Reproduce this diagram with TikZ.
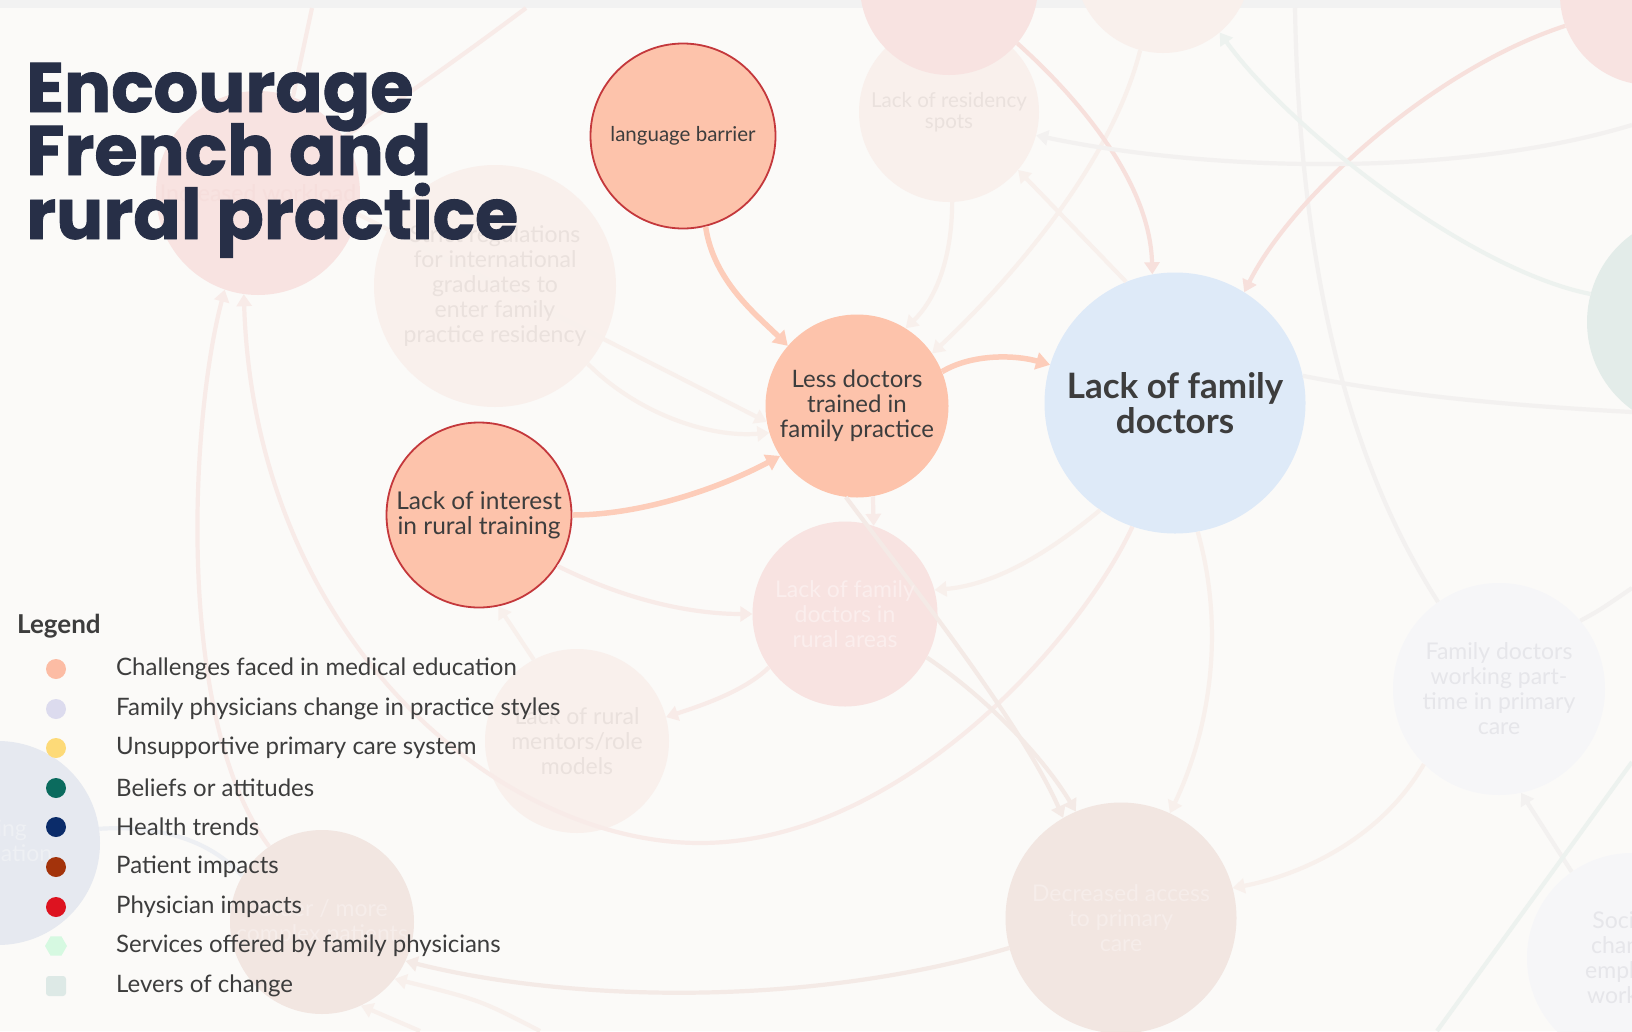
\documentclass[tikz,border=0pt]{standalone}
\usepackage{fontspec}
\setmainfont{Lato}
\newfontfamily\titlefont{Poppins}[BoldFeatures={FakeBold=1.2}]
\usetikzlibrary{arrows.meta,shapes.geometric}
\newcommand{\fsz}[2]{\fontsize{#1}{#2}\selectfont}
\definecolor{bgc}{HTML}{FBFAF8}
\definecolor{band}{HTML}{F2F2F2}
\definecolor{salmon}{HTML}{FDC3AB}
\definecolor{redborder}{HTML}{C4383C}
\definecolor{bluefill}{HTML}{DEEAF8}
\definecolor{txt}{HTML}{3D3D3D}
\definecolor{titlec}{HTML}{272F47}
\definecolor{mainline}{HTML}{FDCDBA}
% faint fills
\definecolor{fpink}{HTML}{F8E3E1}
\definecolor{fpeach}{HTML}{F9F0EC}
\definecolor{fgreen}{HTML}{E3ECE9}
\definecolor{fblue}{HTML}{E6E9F0}
\definecolor{fbrown}{HTML}{F2E6E1}
\definecolor{fgray}{HTML}{F6F6F8}
% faint texts
\definecolor{twhite}{HTML}{FBEEED}
\definecolor{tiw}{HTML}{F6DEDC}
\definecolor{tbrown}{HTML}{F6EDEA}
\definecolor{tpeach}{HTML}{EAE1DD}
\definecolor{tgray}{HTML}{E6E6EA}
\definecolor{tblue}{HTML}{EEF0F4}
% faint lines
\definecolor{pinkl}{HTML}{F8EBE8}
\definecolor{pinkm}{HTML}{F7E0DC}
\definecolor{peachl}{HTML}{F8F0EC}
\definecolor{brownl}{HTML}{F4EAE6}
\definecolor{grayl}{HTML}{F3F1F0}
\definecolor{greenl}{HTML}{EDF2EF}
\definecolor{bluel}{HTML}{EDEFF3}
% legend
\definecolor{lg1}{HTML}{FCBCA4}
\definecolor{lg2}{HTML}{DCDBEE}
\definecolor{lg3}{HTML}{FDDA78}
\definecolor{lg4}{HTML}{0B6B5E}
\definecolor{lg5}{HTML}{0B2C6A}
\definecolor{lg6}{HTML}{A3330B}
\definecolor{lg7}{HTML}{DD1320}
\definecolor{lg8}{HTML}{D6F9E1}
\definecolor{lg9}{HTML}{DDE9E6}
\tikzset{
  bubble/.style={circle, inner sep=0pt, align=center, minimum size=#1},
  ftext/.style={font=\fsz{23}{25}},
  fl/.style={line width=4.2pt, draw=#1},
  fla/.style={line width=4.2pt, draw=#1, -{Triangle[length=12pt,width=15pt]}},
  ma/.style={line width=5.5pt, draw=mainline, -{Triangle[length=14pt,width=17pt]}},
  dot/.style={circle, inner sep=0pt, minimum size=20pt, fill=#1},
  legtext/.style={anchor=west, inner sep=0pt, font=\fsz{24}{25}, text=txt},
  titletext/.style={anchor=base west, inner sep=0pt, font=\titlefont\bfseries\fsz{70}{62}, text=titlec},
  ftxt/.style={inner sep=0pt, align=center},
}
\begin{document}
\begin{tikzpicture}[x=1pt,y=-1pt]
\useasboundingbox (0,0) rectangle (1632,1031);
\begin{scope}
\clip (0,0) rectangle (1632,1031);
\fill[bgc] (0,0) rectangle (1632,1031);
\fill[band] (0,0) rectangle (1632,8);

% faint background nodes (shapes)
\node[bubble=204pt, fill=fpink] (iw) at (258,193) {};
\node[bubble=242pt, fill=fpeach] (sr) at (495,286) {};
\node[bubble=180pt, fill=fpeach] (rs) at (949,112) {};
\node[bubble=178pt, fill=fpink] (top1) at (949,-14) {};
\node[bubble=176pt, fill=fpeach] (top2) at (1163,-35) {};
\node[bubble=180pt, fill=fpink] (topright) at (1650,-5) {};
\node[bubble=216pt, fill=fgreen] (green) at (1695,322) {};
\node[bubble=185pt, fill=fpink] (rural) at (845,614) {};
\node[bubble=184pt, fill=fpeach] (mentors) at (577,741) {};
\node[bubble=204pt, fill=fblue] (aging) at (-2,843) {};
\node[bubble=184pt, fill=fbrown] (complex) at (322,922) {};
\node[bubble=231pt, fill=fbrown] (access) at (1121,918) {};
\node[bubble=212pt, fill=fgray] (parttime) at (1499,689) {};
\node[bubble=210pt, fill=fgray] (societal) at (1632,958) {};

% main nodes
\node[bubble=185pt, fill=salmon, draw=redborder, line width=1.8pt, text=txt, font=\fsz{20.5}{24}] (lb) at (683,136) {language barrier};
\node[bubble=183pt, fill=salmon, text=txt, font=\fsz{24}{25}] (ld) at (857,406) {Less doctors\\trained in\\family practice};
\node[bubble=261pt, fill=bluefill, text=txt, font=\bfseries\fsz{35}{35}] (lfd) at (1175,403) {Lack of family\\doctors};
\node[bubble=185pt, fill=salmon, draw=redborder, line width=1.8pt, text=txt, font=\fsz{24.5}{25}] (li) at (479,515) {Lack of interest\\in rural training};

% free ends
\coordinate (e1) at (312,8);
\coordinate (e2) at (526,8);
\coordinate (e3) at (1295,8);
\coordinate (e4) at (1632,588);
\coordinate (e5) at (1632,762);
\coordinate (e6) at (1437,1031);
\coordinate (e7) at (1632,125);
\coordinate (e8) at (1632,412);
\coordinate (e9) at (540,1031);
\coordinate (e10) at (420,1031);

% faint connectors
\draw[fl=pinkl] (e1) -- (iw.70);
\draw[fl=pinkl] (e2) .. controls (470,50) and (400,100) .. (iw.33);
\draw[fla=pinkl] (complex.125) .. controls (175,720) and (190,420) .. (iw.-109);
\draw[fla=pinkl] (lfd.-109) .. controls (1080,640) and (900,843) .. (700,843) .. controls (500,843) and (255,640) .. (iw.-98);
\draw[fla=peachl] (iw.-12) -- (ld.190);
\draw[fla=peachl] (sr.-40) .. controls +(50,50) and +(-60,5) .. (ld.197);
\draw[fla=pinkl] (li.-33) .. controls +(70,35) and +(-60,0) .. (rural.180);
\draw[fla=pinkl] (rural.-145) .. controls +(-25,25) and +(30,-10) .. (mentors.15);
\draw[fla=peachl] (mentors.118) -- (li.-78);
\draw[fla=pinkl] (ld.-80) -- (rural.72);
\draw[fla=brownl] (ld.-97) .. controls (900,570) and (1020,720) .. (access.120);
\draw[fla=brownl] (rural.-28) .. controls (990,700) and (1045,760) .. (access.113);
\draw[fla=peachl] (lfd.-125) .. controls (1040,560) and (990,585) .. (rural.15);
\draw[fla=peachl] (lfd.-80) .. controls (1228,640) and (1205,740) .. (access.65);
\draw[fla=peachl] (parttime.-135) .. controls (1380,840) and (1300,875) .. (access.15);
\draw[fl=grayl] (e3) .. controls (1300,300) and (1360,480) .. (parttime.125);
\draw[fla=grayl] (societal.125) -- (parttime.-78);
\draw[fl=grayl] (parttime.40) .. controls (1600,610) .. (e4);
\draw[fl=greenl] (e5) -- (e6);
\draw[fla=peachl] (top2.-105) .. controls (1110,170) and (1000,290) .. (ld.35);
\draw[fla=peachl] (rs.-88) .. controls (952,260) and (935,300) .. (ld.58);
\draw[fla=peachl] (lfd.112) -- (rs.-40);
\draw[fla=pinkm] (top1.-40) .. controls (1075,95) and (1150,180) .. (lfd.100);
\draw[fla=pinkm] (topright.-160) .. controls (1430,70) and (1290,200) .. (lfd.58);
\draw[fla=grayl] (e7) .. controls (1450,180) and (1200,170) .. (rs.-15);
\draw[fla=greenl] (green.165) .. controls (1470,270) and (1290,130) .. (top2.-50);
\draw[fl=grayl] (lfd.12) .. controls (1400,395) and (1500,405) .. (e8);
\draw[fl=bluel] (aging.8) .. controls (160,825) and (210,840) .. (complex.150);
\draw[fla=brownl] (access.195) .. controls (800,1010) and (560,1000) .. (complex.-25);
\draw[fla=peachl] (e9) .. controls (480,1000) .. (complex.-38);
\draw[fla=peachl] (e10) -- (complex.-65);

% faint texts (over the faint lines)
\node[ftxt, text=tiw, ftext] (iwt) at (iw) {Increased workload};
\node[ftxt, text=tpeach, ftext] (srt) at (sr) {Strict regulations\\for international\\graduates to\\enter family\\practice residency};
\node[ftxt, text=tpeach, font=\fsz{20.5}{21}] (rst) at (rs) {Lack of residency\\spots};
\node[ftxt, text=twhite, ftext] (ruralt) at (rural) {Lack of family\\doctors in\\rural areas};
\node[ftxt, text=tpeach, ftext] (mentorst) at (mentors) {Lack of rural\\mentors/role\\models};
\node[ftxt, text=tblue, ftext] (agingt) at (aging) {Aging\\population};
\node[ftxt, text=tbrown, ftext] (complext) at (complex) {Older / more\\complex patients};
\node[ftxt, text=tbrown, ftext] (accesst) at (access) {Decreased access\\to primary\\care};
\node[ftxt, text=tgray, ftext] (parttimet) at (parttime) {Family doctors\\working part-\\time in primary\\care};
\node[ftxt, text=tgray, ftext] (societalt) at (societal) {Societal\\changes\\emphasis\\work-life};

% main connectors
\draw[ma] (lb.-76) .. controls +(8,55) and +(-30,-30) .. (ld.139);
\draw[ma] (li.east) .. controls +(70,0) and +(-60,32) .. (ld.213);
\draw[ma] (ld.22) .. controls +(30,-18) and +(-35,-10) .. (lfd.163);

% title
\node[titletext] (t1) at (26,112) {Encourage};
\node[titletext] (t2) at (26,175) {French and};
\node[titletext] (t3) at (26,239) {rural practice};

% legend
\node[anchor=west, inner sep=0pt, font=\bfseries\fsz{26}{28}, text=txt] (lg) at (17,626) {Legend};
\node[dot=lg1] (m1) at (56,669) {};
\node[legtext] (l1) at (116,669) {Challenges faced in medical education};
\node[dot=lg2] (m2) at (56,709) {};
\node[legtext] (l2) at (116,709) {Family physicians change in practice styles};
\node[dot=lg3] (m3) at (56,748) {};
\node[legtext] (l3) at (116,748) {Unsupportive primary care system};
\node[dot=lg4] (m4) at (56,788) {};
\node[legtext] (l4) at (116,788) {Beliefs or attitudes};
\node[dot=lg5] (m5) at (56,827) {};
\node[legtext] (l5) at (116,827) {Health trends};
\node[dot=lg6] (m6) at (56,867) {};
\node[legtext] (l6) at (116,867) {Patient impacts};
\node[dot=lg7] (m7) at (56,907) {};
\node[legtext] (l7) at (116,907) {Physician impacts};
\node[regular polygon, regular polygon sides=6, inner sep=0pt, minimum size=22pt, fill=lg8] (m8) at (56,946) {};
\node[legtext] (l8) at (116,946) {Services offered by family physicians};
\node[rectangle, rounded corners=3pt, inner sep=0pt, minimum size=20pt, fill=lg9] (m9) at (56,986) {};
\node[legtext] (l9) at (116,986) {Levers of change};
\end{scope}
\end{tikzpicture}
\end{document}
